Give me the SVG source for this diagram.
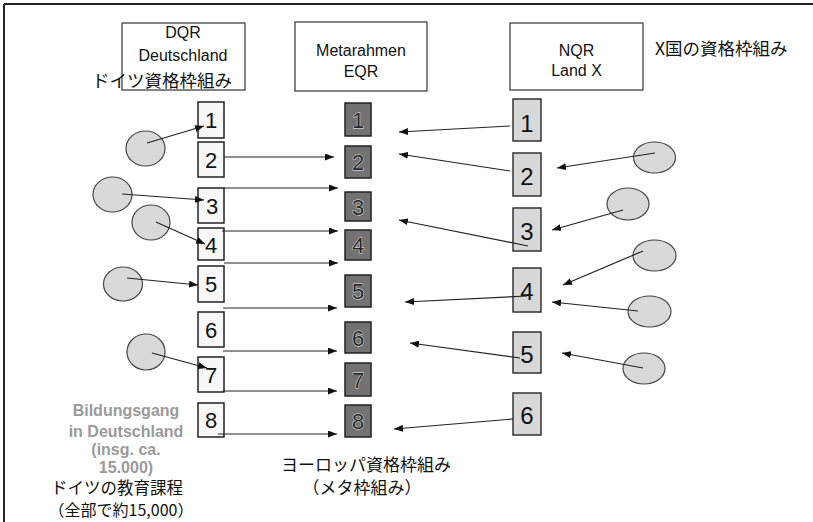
<svg xmlns="http://www.w3.org/2000/svg" width="813" height="522" viewBox="0 0 813 522">
<style>
.t{font-family:"Liberation Sans",Arial,sans-serif;fill:#111;text-anchor:middle}
.h{font-size:16px}
.j{font-family:"Noto Sans CJK JP","Liberation Sans",sans-serif;fill:#111}
.g{font-family:"Liberation Sans",Arial,sans-serif;font-weight:bold;font-size:16px;fill:#9a9a9a;text-anchor:middle}
.hb{fill:#fff;stroke:#333;stroke-width:1.2}
.lb{fill:#f7f7f7;stroke:#222;stroke-width:1.5}
.mb{fill:#727272;stroke:#222;stroke-width:1.5}
.rb{fill:#d8d8d8;stroke:#333;stroke-width:1.5}
.ld{font-family:"Liberation Sans",Arial,sans-serif;font-size:22px;fill:#111;text-anchor:middle}
.md{font-family:"Liberation Sans",Arial,sans-serif;font-size:22px;fill:#262626;stroke:#f0f0f0;stroke-width:0.9;paint-order:stroke;text-anchor:middle}
.rd{font-family:"Liberation Sans",Arial,sans-serif;font-size:24px;fill:#111;text-anchor:middle}
.c{fill:#d9d9d9;stroke:#444;stroke-width:1.2}
.a{stroke:#222;stroke-width:1.2;fill:none;marker-end:url(#ah)}
</style>
<defs>
<marker id="ah" markerUnits="userSpaceOnUse" markerWidth="9" markerHeight="7" refX="9" refY="3.5" orient="auto">
<path d="M0,0 L9,3.5 L0,7 z" fill="#111"/>
</marker>
</defs>
<rect width="813" height="522" fill="#fff"/>
<g id="frame">
<line x1="4" y1="4" x2="813" y2="4" stroke="#222" stroke-width="2"/>
<line x1="4" y1="4" x2="4" y2="522" stroke="#222" stroke-width="2"/>
</g>
<g id="head-dqr">
<rect class="hb" x="122" y="23" width="123" height="67"/>
<text class="t h" x="183" y="38">DQR</text>
<text class="t h" x="183" y="61">Deutschland</text>
<text class="j" x="162" y="87" font-size="17.5" text-anchor="middle">ドイツ資格枠組み</text>
</g>
<g id="head-eqr">
<rect class="hb" x="295" y="22" width="132" height="69"/>
<text class="t h" x="361" y="56">Metarahmen</text>
<text class="t h" x="361" y="77">EQR</text>
</g>
<g id="head-nqr">
<rect class="hb" x="510" y="23" width="133" height="67"/>
<text class="t h" x="576.5" y="56">NQR</text>
<text class="t h" x="576.5" y="76">Land X</text>
<text class="j" x="655" y="55" font-size="17.5">X国の資格枠組み</text>
</g>
<g id="dqr-levels">
<g id="d1"><rect class="lb" x="198" y="102" width="26" height="36"/><text class="ld" x="211" y="128">1</text></g>
<g id="d2"><rect class="lb" x="198" y="142" width="26" height="35"/><text class="ld" x="211" y="168">2</text></g>
<g id="d3"><rect class="lb" x="198" y="188" width="26" height="35"/><text class="ld" x="212" y="214">3</text></g>
<g id="d4"><rect class="lb" x="198" y="228" width="26" height="32"/><text class="ld" x="211" y="253">4</text></g>
<g id="d5"><rect class="lb" x="198" y="266" width="26" height="36"/><text class="ld" x="211" y="292">5</text></g>
<g id="d6"><rect class="lb" x="198" y="312" width="26" height="35"/><text class="ld" x="211" y="338">6</text></g>
<g id="d7"><rect class="lb" x="198" y="357" width="26" height="35"/><text class="ld" x="211" y="383">7</text></g>
<g id="d8"><rect class="lb" x="198" y="403" width="26" height="34"/><text class="ld" x="211" y="428">8</text></g>
</g>
<g id="eqr-levels">
<g id="e1"><rect class="mb" x="345" y="103" width="26" height="33"/><text class="md" x="358" y="128">1</text></g>
<g id="e2"><rect class="mb" x="345" y="146" width="26" height="32"/><text class="md" x="358" y="170">2</text></g>
<g id="e3"><rect class="mb" x="345" y="192" width="26" height="29"/><text class="md" x="358" y="215">3</text></g>
<g id="e4"><rect class="mb" x="345" y="230" width="26" height="30"/><text class="md" x="358" y="253">4</text></g>
<g id="e5"><rect class="mb" x="345" y="275" width="26" height="32"/><text class="md" x="358" y="299">5</text></g>
<g id="e6"><rect class="mb" x="345" y="322" width="26" height="31"/><text class="md" x="358" y="346">6</text></g>
<g id="e7"><rect class="mb" x="345" y="363" width="26" height="33"/><text class="md" x="358" y="388">7</text></g>
<g id="e8"><rect class="mb" x="345" y="405" width="26" height="32"/><text class="md" x="358" y="429">8</text></g>
</g>
<g id="nqr-levels">
<g id="n1"><rect class="rb" x="513" y="99" width="28" height="42"/><text class="rd" x="527" y="132">1</text></g>
<g id="n2"><rect class="rb" x="513" y="153" width="28" height="43"/><text class="rd" x="527" y="185">2</text></g>
<g id="n3"><rect class="rb" x="513" y="208" width="28" height="43"/><text class="rd" x="527" y="240">3</text></g>
<g id="n4"><rect class="rb" x="513" y="268" width="28" height="44"/><text class="rd" x="527" y="300">4</text></g>
<g id="n5"><rect class="rb" x="513" y="332" width="28" height="41"/><text class="rd" x="527" y="363">5</text></g>
<g id="n6"><rect class="rb" x="513" y="393" width="28" height="42"/><text class="rd" x="527" y="424">6</text></g>
</g>
<g id="programs-de">
<ellipse class="c" cx="145.5" cy="148.5" rx="19.5" ry="17.5"/>
<ellipse class="c" cx="112.5" cy="194.5" rx="19.5" ry="17.5"/>
<ellipse class="c" cx="151" cy="222.5" rx="19" ry="17.5"/>
<ellipse class="c" cx="123" cy="284" rx="19.5" ry="17"/>
<ellipse class="c" cx="146" cy="352" rx="19" ry="18"/>
</g>
<g id="programs-x">
<ellipse class="c" cx="654.5" cy="157.5" rx="21" ry="15.5"/>
<ellipse class="c" cx="628" cy="204" rx="21" ry="16"/>
<ellipse class="c" cx="654.5" cy="255.5" rx="21.5" ry="15.5"/>
<ellipse class="c" cx="649.5" cy="311.5" rx="21.5" ry="15.5"/>
<ellipse class="c" cx="644" cy="368.5" rx="21" ry="15.5"/>
</g>
<g id="connectors">
<line class="a" x1="224" y1="157" x2="334" y2="157"/>
<line class="a" x1="224" y1="188" x2="338" y2="188"/>
<line class="a" x1="222" y1="231" x2="338" y2="231"/>
<line class="a" x1="224" y1="263" x2="338" y2="263"/>
<line class="a" x1="223" y1="308" x2="337" y2="308"/>
<line class="a" x1="223" y1="351" x2="337" y2="351"/>
<line class="a" x1="223" y1="391" x2="337" y2="391"/>
<line class="a" x1="218" y1="434" x2="337" y2="434"/>
<line class="a" x1="510" y1="126" x2="399" y2="132"/>
<line class="a" x1="510" y1="171" x2="399" y2="154"/>
<line class="a" x1="528" y1="246" x2="399" y2="220"/>
<line class="a" x1="527" y1="296" x2="405" y2="302"/>
<line class="a" x1="520" y1="358" x2="410" y2="343"/>
<line class="a" x1="513" y1="419" x2="394" y2="429"/>
<line class="a" x1="147" y1="143" x2="204" y2="126"/>
<line class="a" x1="122" y1="194" x2="204" y2="200"/>
<line class="a" x1="156" y1="222" x2="205" y2="244"/>
<line class="a" x1="127" y1="278" x2="198" y2="285"/>
<line class="a" x1="152" y1="353" x2="207" y2="368"/>
<line class="a" x1="655" y1="153" x2="557" y2="168"/>
<line class="a" x1="623" y1="210" x2="552" y2="230"/>
<line class="a" x1="643" y1="251" x2="563" y2="285"/>
<line class="a" x1="638" y1="311" x2="552" y2="302"/>
<line class="a" x1="643" y1="368" x2="562" y2="353"/>
</g>
<g id="label-de">
<text class="g" x="126" y="416">Bildungsgang</text>
<text class="g" x="126" y="437">in Deutschland</text>
<text class="g" x="126" y="455">(insg. ca.</text>
<text class="g" x="126" y="473">15.000)</text>
<text class="j" x="117" y="494" font-size="16.5" text-anchor="middle">ドイツの教育課程</text>
<text class="j" x="121" y="516" font-size="16" text-anchor="middle">（全部で約15,000）</text>
</g>
<g id="label-eqr">
<text class="j" x="366" y="471" font-size="17" text-anchor="middle">ヨーロッパ資格枠組み</text>
<text class="j" x="362" y="494" font-size="17" text-anchor="middle">（メタ枠組み）</text>
</g>
</svg>
